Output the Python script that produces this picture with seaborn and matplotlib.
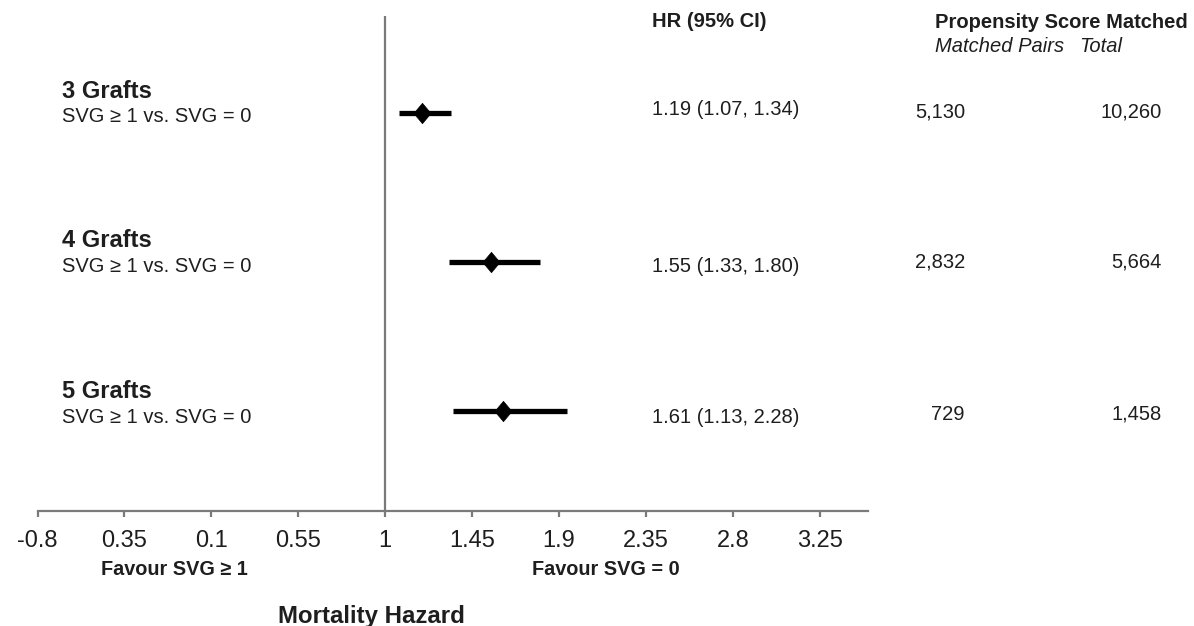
import matplotlib
matplotlib.use("Agg")
import matplotlib.pyplot as plt
import seaborn as sns
import pandas as pd

# ---- data ----
groups = ["3 Grafts", "4 Grafts", "5 Grafts"]
comparison = ["SVG \u2265 1 vs. SVG = 0"] * 3
hr = [1.19, 1.55, 1.61]
ci_low_drawn = [1.07, 1.33, 1.35]
ci_high_drawn = [1.34, 1.80, 1.94]
hr_text = ["1.19 (1.07, 1.34)", "1.55 (1.33, 1.80)", "1.61 (1.13, 2.28)"]
matched_pairs = ["5,130", "2,832", "729"]
totals = ["10,260", "5,664", "1,458"]
row_pos = [3, 2, 1]
tick_vals = [-0.8, -0.35, 0.1, 0.55, 1, 1.45, 1.9, 2.35, 2.8, 3.25]
tick_labels = ["-0.8", "0.35", "0.1", "0.55", "1", "1.45", "1.9", "2.35", "2.8", "3.25"]

df = pd.DataFrame({"group": groups, "hr": hr, "lo": ci_low_drawn,
                   "hi": ci_high_drawn, "y": row_pos})

sns.set_style("white")
plt.rcParams["font.family"] = ["Liberation Sans", "DejaVu Sans"]

W, H = 1194, 626
fig = plt.figure(figsize=(W / 100, H / 100), dpi=100)
ax = fig.add_axes([37.5 / W, 115 / H, (868 - 37.5) / W, (511 - 16) / H])

TXT = "#1e1e1e"
GRAY = "#7a7a7a"

ax.axvline(1, color=GRAY, lw=1.6, zorder=1)
ax.hlines(df["y"], df["lo"], df["hi"], color="black", lw=3.8, zorder=2)
diamond = [(-0.42, 0), (0, 0.5), (0.42, 0), (0, -0.5), (-0.42, 0)]
sns.scatterplot(data=df, x="hr", y="y", marker=diamond, s=215,
                color="black", edgecolor="black", linewidth=0.5, zorder=3, ax=ax, legend=False)

ax.set_xlim(-0.8, 3.5)
ax.set_ylim(0.329, 3.651)
ax.set_xticks(tick_vals)
ax.set_xticklabels(tick_labels)
ax.set_yticks([])
ax.set_xlabel("")
ax.set_ylabel("")
for s in ["top", "right", "left"]:
    ax.spines[s].set_visible(False)
ax.spines["bottom"].set_color(GRAY)
ax.spines["bottom"].set_linewidth(1.6)
ax.tick_params(axis="x", direction="out", length=4, width=1.6, color=GRAY,
               pad=9.5, labelsize=17, labelcolor=TXT, bottom=True)


def ftext(x, y, s, **kw):
    kw.setdefault("color", TXT)
    kw.setdefault("va", "baseline")
    fig.text(x / W, 1 - y / H, s, **kw)


head_base = [98, 247, 398]
sub_base = [122, 272, 423]
hr_base = [115, 272, 423]
num_base = [117, 268, 420]
for i in range(3):
    ftext(62, head_base[i], groups[i], fontsize=17, fontweight="bold")
    ftext(62, sub_base[i], comparison[i], fontsize=14.5)
    ftext(652, hr_base[i], hr_text[i], fontsize=14.5)
    ftext(965, num_base[i], matched_pairs[i], fontsize=14.5, ha="right")
    ftext(1162, num_base[i], totals[i], fontsize=14.5, ha="right")

ftext(652, 27, "HR (95% CI)", fontsize=14.5, fontweight="bold")
ftext(935, 28, "Propensity Score Matched", fontsize=14.5, fontweight="bold")
ftext(935, 52, "Matched Pairs", fontsize=14.5, style="italic")
ftext(1079, 52, "Total", fontsize=14.5, style="italic")
ftext(101, 575, "Favour SVG \u2265 1", fontsize=14.3, fontweight="bold")
ftext(532, 575, "Favour SVG = 0", fontsize=14.3, fontweight="bold")
ftext(278, 623, "Mortality Hazard", fontsize=17.3, fontweight="bold")

fig.savefig("out.png", dpi=100, facecolor="white")
